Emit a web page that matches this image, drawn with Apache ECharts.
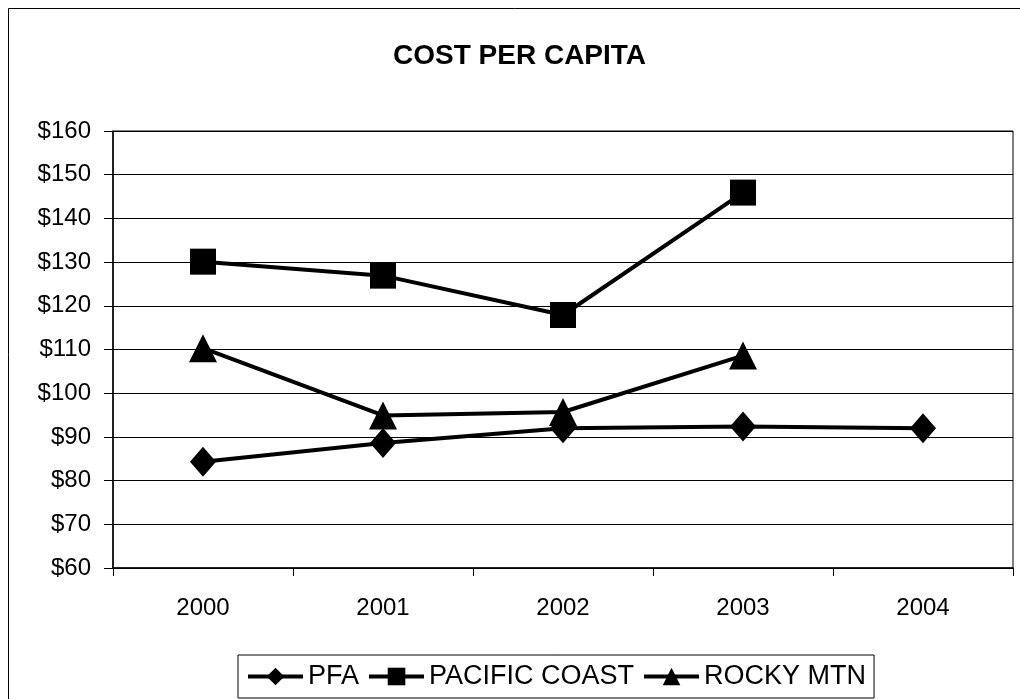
<!DOCTYPE html>
<html><head><meta charset="utf-8">
<script src="https://cdn.jsdelivr.net/npm/echarts@6/dist/echarts.min.js"></script>
<style>html,body{margin:0;padding:0;background:#fff}#c{width:1020px;height:699px}</style>
</head><body><div id="c"></div>
<script>
const years = ['2000','2001','2002','2003','2004'];
const pfa = [84.3, 88.6, 92.0, 92.4, 92.0];
const pacificCoast = [130.1, 126.9, 117.9, 145.9, null];
const rockyMtn = [110.3, 94.9, 95.7, 108.6, null];
const yTicks = {min: 60, max: 160, interval: 10};

const font = 'Liberation Sans, Arial, sans-serif';
const chart = echarts.init(document.getElementById('c'));
const lineStyle = {color: '#000', width: 4};
chart.setOption({
  animation: false,
  backgroundColor: '#fff',
  title: {text: 'COST PER CAPITA', left: 388, top: 37,
    textStyle: {fontFamily: font, fontSize: 28, fontWeight: 'bold', color: '#000'}},
  graphic: [{type: 'rect', shape: {x: 8.5, y: 8.5, width: 1030, height: 700},
    style: {fill: null, stroke: '#000', lineWidth: 1}, silent: true}],
  grid: {left: 113, right: 7, top: 131, bottom: 131, show: true, borderColor: '#000', borderWidth: 1},
  xAxis: {type: 'category', data: years, boundaryGap: true,
    axisLine: {lineStyle: {color: '#000', width: 1.5}},
    axisTick: {show: true, length: 8, lineStyle: {color: '#000'}},
    axisLabel: {fontFamily: font, fontSize: 24, color: '#000', margin: 28},
    splitLine: {show: false}},
  yAxis: {type: 'value', min: yTicks.min, max: yTicks.max, interval: yTicks.interval,
    axisLine: {show: true, lineStyle: {color: '#000', width: 1.5}},
    axisTick: {show: true, length: 9, lineStyle: {color: '#000'}},
    axisLabel: {fontFamily: font, fontSize: 24, color: '#000', margin: 22, formatter: v => '$' + v},
    splitLine: {show: true, lineStyle: {color: '#000', width: 1}}},
  legend: {bottom: 1, left: 238, data: ['PFA','PACIFIC COAST','ROCKY MTN'],
    borderColor: '#000', borderWidth: 1, padding: [8, 8, 8, 8], itemGap: 8,
    itemWidth: 55, itemHeight: 22,
    lineStyle: {width: 4, color: '#000'},
    textStyle: {fontFamily: font, fontSize: 27, color: '#000'}},
  series: [
    {name: 'PFA', type: 'line', data: pfa, symbol: 'diamond', symbolSize: [26, 30],
      itemStyle: {color: '#000'}, lineStyle},
    {name: 'PACIFIC COAST', type: 'line', data: pacificCoast, symbol: 'rect', symbolSize: 26,
      itemStyle: {color: '#000'}, lineStyle},
    {name: 'ROCKY MTN', type: 'line', data: rockyMtn, symbol: 'triangle', symbolSize: [28, 28],
      itemStyle: {color: '#000'}, lineStyle}
  ]
});
</script></body></html>
